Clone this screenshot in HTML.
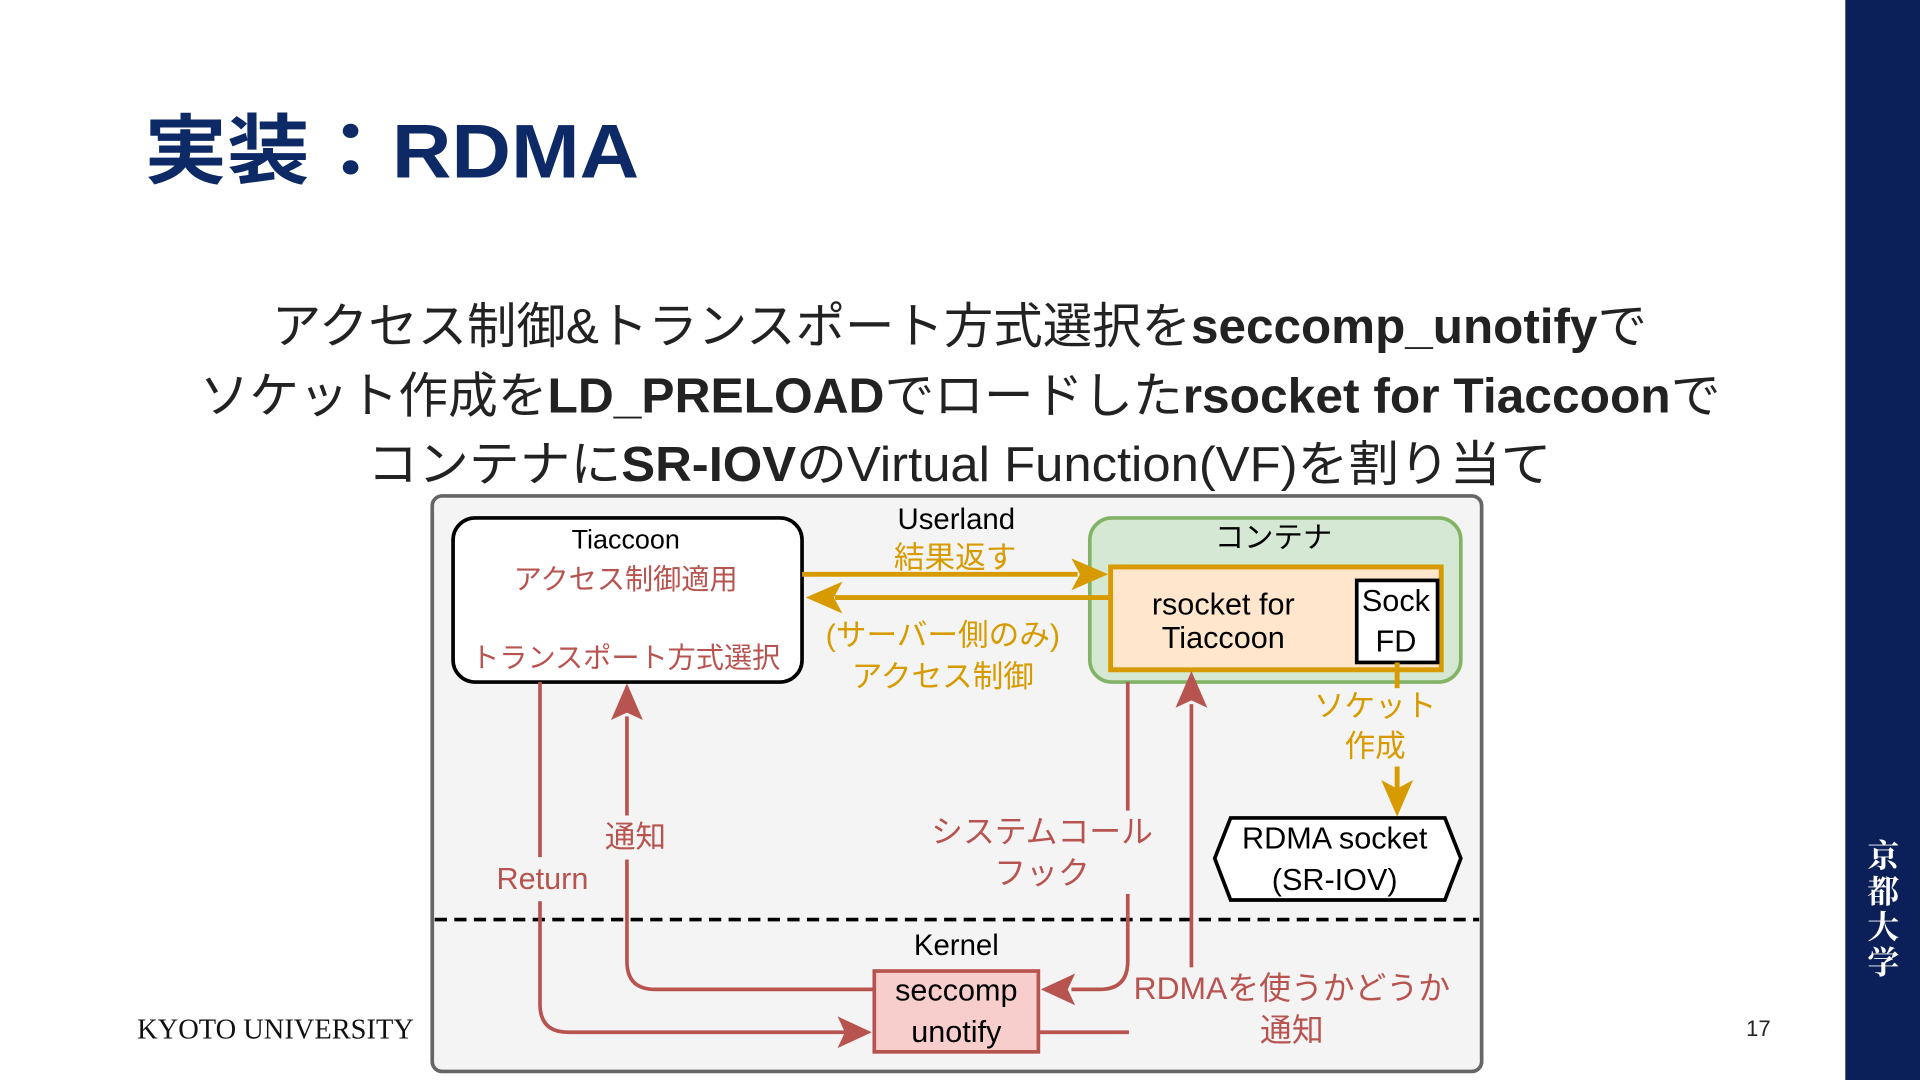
<!DOCTYPE html>
<html><head><meta charset="utf-8"><style>
html,body{margin:0;padding:0;background:#fff;}
svg{display:block;}
text{font-family:"Liberation Sans","Noto Sans CJK JP",sans-serif;}
</style></head><body>
<svg width="1920" height="1080" viewBox="0 0 1568 882" xmlns="http://www.w3.org/2000/svg">
<rect x="1507" y="0" width="61" height="882" fill="#0b1f58"/>
<g font-size="26" fill="#fff" text-anchor="middle" font-weight="bold" style="font-family:'Noto Serif CJK SC',serif">
<text x="1538" y="708" style="font-family:'Noto Serif CJK SC',serif">京</text>
<text x="1538" y="737" style="font-family:'Noto Serif CJK SC',serif">都</text>
<text x="1538" y="766" style="font-family:'Noto Serif CJK SC',serif">大</text>
<text x="1538" y="795" style="font-family:'Noto Serif CJK SC',serif">学</text>
</g>

<text x="118" y="145" font-size="62" font-weight="bold" fill="#0d2a66" textLength="404" lengthAdjust="spacingAndGlyphs">実装：RDMA</text>

<g font-size="40" fill="#222">
<text x="222" y="280" textLength="1123" lengthAdjust="spacingAndGlyphs">アクセス制御&amp;トランスポート方式選択を<tspan font-weight="bold">seccomp_unotify</tspan>で</text>
<text x="163" y="337" textLength="1242" lengthAdjust="spacingAndGlyphs">ソケット作成を<tspan font-weight="bold">LD_PRELOAD</tspan>でロードした<tspan font-weight="bold">rsocket for Tiaccoon</tspan>で</text>
<text x="300" y="393" textLength="967" lengthAdjust="spacingAndGlyphs">コンテナに<tspan font-weight="bold">SR-IOV</tspan>のVirtual Function(VF)を割り当て</text>
</g>

<rect x="353" y="405" width="857" height="470" rx="8" fill="#f4f4f4" stroke="#666" stroke-width="3"/>

<rect x="370" y="423" width="285" height="134" rx="18" fill="#fff" stroke="#000" stroke-width="3"/>
<text x="511" y="448" font-size="22" text-anchor="middle">Tiaccoon</text>
<text x="511" y="481" font-size="23" text-anchor="middle" fill="#b85450">アクセス制御適用</text>
<text x="511" y="545" font-size="23" text-anchor="middle" fill="#b85450">トランスポート方式選択</text>

<text x="781" y="432" font-size="24" text-anchor="middle">Userland</text>
<text x="780" y="464" font-size="25" text-anchor="middle" fill="#d79b00">結果返す</text>

<rect x="890" y="423" width="303" height="134" rx="18" fill="#d5e8d4" stroke="#82b366" stroke-width="3"/>
<text x="1040" y="447" font-size="24" text-anchor="middle">コンテナ</text>
<rect x="907" y="463" width="270" height="84" fill="#ffe6cc" stroke="#d79b00" stroke-width="4"/>
<text x="999" y="502" font-size="25" text-anchor="middle">rsocket for</text>
<text x="999" y="529" font-size="25" text-anchor="middle">Tiaccoon</text>
<rect x="1108" y="474" width="66" height="67" fill="#fff" stroke="#000" stroke-width="3"/>
<text x="1140" y="499" font-size="25" text-anchor="middle">Sock</text>
<text x="1140" y="532" font-size="25" text-anchor="middle">FD</text>

<g stroke="#d79b00" stroke-width="4" fill="none">
<line x1="655" y1="469" x2="880" y2="469"/>
<line x1="907" y1="488" x2="682" y2="488"/>
<line x1="1141" y1="541" x2="1141" y2="562"/>
<line x1="1141" y1="626" x2="1141" y2="645"/>
</g>
<path d="M905,469 L875,456 L882,469 L875,482 Z" fill="#d79b00"/>
<path d="M658,488 L688,475 L681,488 L688,501 Z" fill="#d79b00"/>
<path d="M1141,667 L1128,637 L1141,644 L1154,637 Z" fill="#d79b00"/>
<text x="770" y="527" font-size="25" text-anchor="middle" fill="#d79b00">(サーバー側のみ)</text>
<text x="770" y="561" font-size="25" text-anchor="middle" fill="#d79b00">アクセス制御</text>
<text x="1123" y="585" font-size="25" text-anchor="middle" fill="#d79b00">ソケット</text>
<text x="1123" y="618" font-size="25" text-anchor="middle" fill="#d79b00">作成</text>

<polygon points="992,701 1005,668 1180,668 1193,701 1180,735 1005,735" fill="#fff" stroke="#000" stroke-width="3"/>
<text x="1090" y="693" font-size="25" text-anchor="middle">RDMA socket</text>
<text x="1090" y="727" font-size="25" text-anchor="middle">(SR-IOV)</text>

<line x1="355" y1="751" x2="1208" y2="751" stroke="#000" stroke-width="3" stroke-dasharray="10,6"/>
<text x="781" y="780" font-size="24" text-anchor="middle">Kernel</text>

<g stroke="#b85450" stroke-width="3" fill="none">
<path d="M441,557 L441,820 Q441,843 464,843 L690,843"/>
<path d="M714,808 L535,808 Q512,808 512,785 L512,585"/>
<path d="M921,557 L921,785 Q921,808 898,808 L875,808"/>
<path d="M848,843 L922,843"/>
<path d="M973,795 L973,575"/>
</g>
<g fill="#b85450">
<path d="M712,843 L684,830 L690,843 L684,856 Z"/>
<path d="M512,558 L499,588 L512,582 L525,588 Z"/>
<path d="M850,808 L878,795 L872,808 L878,821 Z"/>
<path d="M973,548 L960,578 L973,572 L986,578 Z"/>
</g>
<rect x="398" y="700" width="90" height="36" fill="#f4f4f4"/>
<text x="443" y="726" font-size="25" text-anchor="middle" fill="#b85450">Return</text>
<rect x="490" y="666" width="58" height="36" fill="#f4f4f4"/>
<text x="519" y="692" font-size="25" text-anchor="middle" fill="#b85450">通知</text>
<rect x="760" y="662" width="182" height="68" fill="#f4f4f4"/>
<text x="851" y="688" font-size="26" text-anchor="middle" fill="#b85450">システムコール</text>
<text x="851" y="722" font-size="26" text-anchor="middle" fill="#b85450">フック</text>
<rect x="922" y="790" width="270" height="70" fill="#f4f4f4"/>
<text x="1055" y="816" font-size="26" text-anchor="middle" fill="#b85450">RDMAを使うかどうか</text>
<text x="1055" y="850" font-size="26" text-anchor="middle" fill="#b85450">通知</text>

<rect x="714" y="793" width="134" height="66" fill="#f8cecc" stroke="#b85450" stroke-width="3"/>
<text x="781" y="817" font-size="25" text-anchor="middle">seccomp</text>
<text x="781" y="851" font-size="25" text-anchor="middle">unotify</text>

<text x="112" y="848" font-size="23" fill="#111" textLength="226" lengthAdjust="spacingAndGlyphs" style="font-family:'Liberation Serif',serif">KYOTO UNIVERSITY</text>
<text x="1436" y="846" font-size="18" text-anchor="middle" fill="#222">17</text>
</svg>
</body></html>
